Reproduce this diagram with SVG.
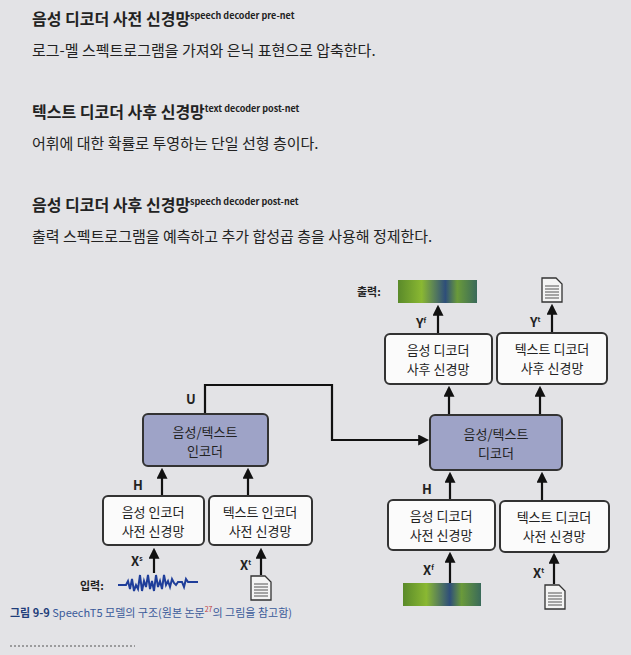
<svg xmlns="http://www.w3.org/2000/svg" width="631" height="655" viewBox="0 0 631 655">
<style>
text{font-family:"Noto Sans CJK KR","Noto Sans",sans-serif;fill:#222}
.h{font-size:16px;font-weight:bold}
.sup{font-size:9px;font-weight:bold}
.p{font-size:15px}
.b{fill:#fbfbfb;stroke:#333;stroke-width:2}
.e{fill:#9ea3c7;stroke:#333;stroke-width:2}
.t{font-size:13px;text-anchor:middle}
.l{font-size:13px;font-weight:bold}
.c{fill:none;stroke:#111;stroke-width:2.2}
</style>
<defs>
<marker id="a" viewBox="0 0 10 10" refX="8" refY="5" markerWidth="5" markerHeight="5" orient="auto"><path d="M0,0L10,5L0,10z" fill="#111"/></marker>
<linearGradient id="sp" x1="0" x2="1"><stop offset="0" stop-color="#5a8a2a"/><stop offset=".3" stop-color="#8ab832"/><stop offset=".6" stop-color="#2e4e7a"/><stop offset=".75" stop-color="#6a9a3a"/><stop offset="1" stop-color="#3a6a5a"/></linearGradient>
<g id="doc"><path d="M0,0h14l6,6v18h-20z" fill="#f4f4f4" stroke="#333" stroke-width="1.3"/><path d="M3,8h14M3,11h14M3,14h14M3,17h14M3,20h14" stroke="#555" stroke-width="1"/></g>
</defs>
<rect width="631" height="655" fill="#e3e3e6"/>
<text x="32" y="25" class="h">음성 디코더 사전 신경망<tspan class="sup" dy="-6">speech decoder pre-net</tspan></text>
<text x="32" y="56" class="p">로그-멜 스펙트로그램을 가져와 은닉 표현으로 압축한다.</text>
<text x="32" y="118" class="h">텍스트 디코더 사후 신경망<tspan class="sup" dy="-6">text decoder post-net</tspan></text>
<text x="32" y="149" class="p">어휘에 대한 확률로 투영하는 단일 선형 층이다.</text>
<text x="32" y="211" class="h">음성 디코더 사후 신경망<tspan class="sup" dy="-6">speech decoder post-net</tspan></text>
<text x="32" y="242" class="p">출력 스펙트로그램을 예측하고 추가 합성곱 층을 사용해 정제한다.</text>

<g id="connectors">
<path class="c" d="M154,573V550" marker-end="url(#a)"/>
<path class="c" d="M261,575V550" marker-end="url(#a)"/>
<path class="c" d="M162,496V470" marker-end="url(#a)"/>
<path class="c" d="M248,496V470" marker-end="url(#a)"/>
<path class="c" d="M205,414V385H332V440H427" marker-end="url(#a)"/>
<path class="c" d="M450,583V554" marker-end="url(#a)"/>
<path class="c" d="M554,584V555" marker-end="url(#a)"/>
<path class="c" d="M450,500V474" marker-end="url(#a)"/>
<path class="c" d="M542,501V474" marker-end="url(#a)"/>
<path class="c" d="M449,415V388" marker-end="url(#a)"/>
<path class="c" d="M540,415V388" marker-end="url(#a)"/>
<path class="c" d="M438,334V307" marker-end="url(#a)"/>
<path class="c" d="M552,333V306" marker-end="url(#a)"/>
</g>

<g id="enc-speech-pre"><rect class="b" x="103" y="496" width="101" height="49" rx="5"/><text class="t" x="153" y="517">음성 인코더</text><text class="t" x="153" y="536">사전 신경망</text></g>
<g id="enc-text-pre"><rect class="b" x="209" y="496" width="103" height="49" rx="5"/><text class="t" x="260" y="517">텍스트 인코더</text><text class="t" x="260" y="536">사전 신경망</text></g>
<g id="encoder"><rect class="e" x="143" y="414" width="125" height="52" rx="5"/><text class="t" x="205" y="437">음성/텍스트</text><text class="t" x="205" y="456">인코더</text></g>
<g id="decoder"><rect class="e" x="430" y="415" width="132" height="55" rx="5"/><text class="t" x="496" y="439">음성/텍스트</text><text class="t" x="496" y="458">디코더</text></g>
<g id="dec-speech-pre"><rect class="b" x="388" y="500" width="107" height="50" rx="5"/><text class="t" x="441" y="521">음성 디코더</text><text class="t" x="441" y="540">사전 신경망</text></g>
<g id="dec-text-pre"><rect class="b" x="500" y="501" width="109" height="51" rx="5"/><text class="t" x="554" y="522">텍스트 디코더</text><text class="t" x="554" y="541">사전 신경망</text></g>
<g id="dec-speech-post"><rect class="b" x="385" y="334" width="107" height="50" rx="5"/><text class="t" x="438" y="355">음성 디코더</text><text class="t" x="438" y="374">사후 신경망</text></g>
<g id="dec-text-post"><rect class="b" x="497" y="333" width="110" height="51" rx="5"/><text class="t" x="552" y="354">텍스트 디코더</text><text class="t" x="552" y="373">사후 신경망</text></g>

<g id="labels">
<text class="l" x="186" y="404">U</text>
<text class="l" x="133" y="490">H</text>
<text class="l" x="422" y="494">H</text>
<text class="l" x="131" y="566">X<tspan font-size="7" dy="-5">s</tspan></text>
<text class="l" x="240" y="570">X<tspan font-size="7" dy="-5">t</tspan></text>
<text class="l" x="423" y="575">X<tspan font-size="7" dy="-5">f</tspan></text>
<text class="l" x="533" y="578">X<tspan font-size="7" dy="-5">t</tspan></text>
<text class="l" x="416" y="328">Y<tspan font-size="7" dy="-5">f</tspan></text>
<text class="l" x="530" y="327">Y<tspan font-size="7" dy="-5">t</tspan></text>
<text x="357" y="296" font-size="11" font-weight="bold">출력:</text>
<text x="80" y="590" font-size="11" font-weight="bold">입력:</text>
</g>

<g id="output-spec"><rect x="398" y="280" width="79" height="23" fill="url(#sp)"/></g>
<g id="input-spec"><rect x="403" y="583" width="78" height="23" fill="url(#sp)"/></g>
<use href="#doc" x="542" y="278"/>
<use href="#doc" x="251" y="576"/>
<use href="#doc" x="545" y="585"/>
<g id="wave"><path d="M118,585h8l2,-4 2,8 2,-10 2,12 2,-6 2,4 2,-14 2,16 2,-10 2,6 2,-12 2,14 2,-8 2,10 2,-16 2,12 2,-6 2,8 2,-14 2,10 2,-4 2,6 2,-8 2,4 2,2 2,-3 4,0 2,5 2,-8 2,3h10" fill="none" stroke="#1f3e9a" stroke-width="2"/></g>

<text x="10" y="617" font-size="11"><tspan font-weight="bold" fill="#1f3e7a">그림 9-9 </tspan><tspan fill="#3a5a9a">SpeechT5 모델의 구조(원본 논문</tspan><tspan font-size="7" dy="-5" fill="#c04040">27</tspan><tspan dy="5" fill="#3a5a9a">의 그림을 참고함)</tspan></text>
<line x1="10" y1="646" x2="135" y2="646" stroke="#555" stroke-dasharray="2,2"/>
</svg>
